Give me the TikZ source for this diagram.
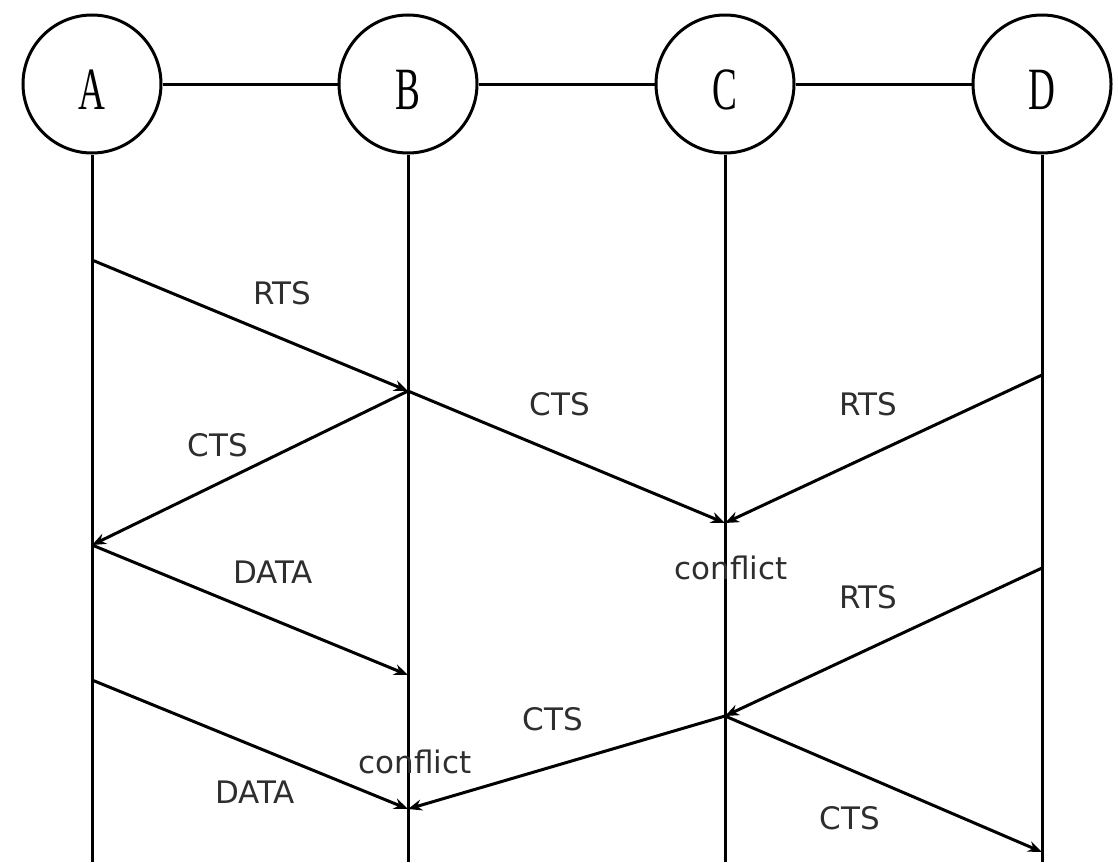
\documentclass[tikz,border=0pt]{standalone}
\usepackage{fontspec}
\setmainfont{DejaVu Sans}
\newfontfamily\circfont{Liberation Serif}
\usetikzlibrary{arrows.meta}
\definecolor{txt}{HTML}{2E2E2E}
\tikzset{
  station/.style={circle, draw=black, line width=3pt, minimum size=138pt, inner sep=0pt,
    text height=50pt, text depth=0pt, font=\circfont\fontsize{60}{60}\selectfont},
  life/.style={line width=3pt},
  msg/.style={line width=3pt, -{Stealth[length=14pt,width=11pt]}},
  lbl/.style={text=txt, font=\fontsize{31}{37}\selectfont, inner sep=0pt},
}
\newcommand{\cond}[1]{\scalebox{0.62}[1]{#1}}
\begin{document}
\begin{tikzpicture}[x=1pt,y=-1pt]
\useasboundingbox (0,0) rectangle (1118,862);
% stations
\node[station] (A) at (92,84) {\cond{A}};
\node[station] (B) at (408,84) {\cond{B}};
\node[station] (C) at (725,84) {\cond{C}};
\node[station] (D) at (1042,84) {\cond{D}};
\draw[life] (A) -- (B);
\draw[life] (B) -- (C);
\draw[life] (C) -- (D);
% lifeline ends
\coordinate (Ae) at (92,862);
\coordinate (Be) at (408,862);
\coordinate (Ce) at (725,862);
\coordinate (De) at (1042,862);
\draw[life] (A.south) -- (Ae);
\draw[life] (B.south) -- (Be);
\draw[life] (C.south) -- (Ce);
\draw[life] (D.south) -- (De);
% events
\coordinate (a1) at (92,260);
\coordinate (b1) at (408,391);
\coordinate (c1) at (725,523);
\coordinate (d1) at (1042,375);
\coordinate (a2) at (92,545);
\coordinate (b2) at (408,675);
\coordinate (d2) at (1042,568);
\coordinate (a3) at (92,680);
\coordinate (c2) at (725,716);
\coordinate (b3) at (408,809);
\coordinate (d3) at (1042,852);
% messages
\draw[msg] (a1) -- (b1);
\draw[msg] (b1) -- (c1);
\draw[msg] (b1) -- (a2);
\draw[msg] (d1) -- (c1);
\draw[msg] (a2) -- (b2);
\draw[msg] (d2) -- (c2);
\draw[msg] (a3) -- (b3);
\draw[msg] (c2) -- (b3);
\draw[msg] (c2) -- (d3);
% labels
\node[lbl] (l1) at (282,293) {RTS};
\node[lbl] (l2) at (218,445) {CTS};
\node[lbl] (l3) at (560,404) {CTS};
\node[lbl] (l4) at (868,404) {RTS};
\node[lbl] (l5) at (273,572) {DATA};
\node[lbl] (l6) at (731,568) {conflict};
\node[lbl] (l7) at (868,597) {RTS};
\node[lbl] (l8) at (553,719) {CTS};
\node[lbl] (l9) at (415,762) {conflict};
\node[lbl] (l10) at (255,792) {DATA};
\node[lbl] (l11) at (850,818) {CTS};
\end{tikzpicture}
\end{document}
